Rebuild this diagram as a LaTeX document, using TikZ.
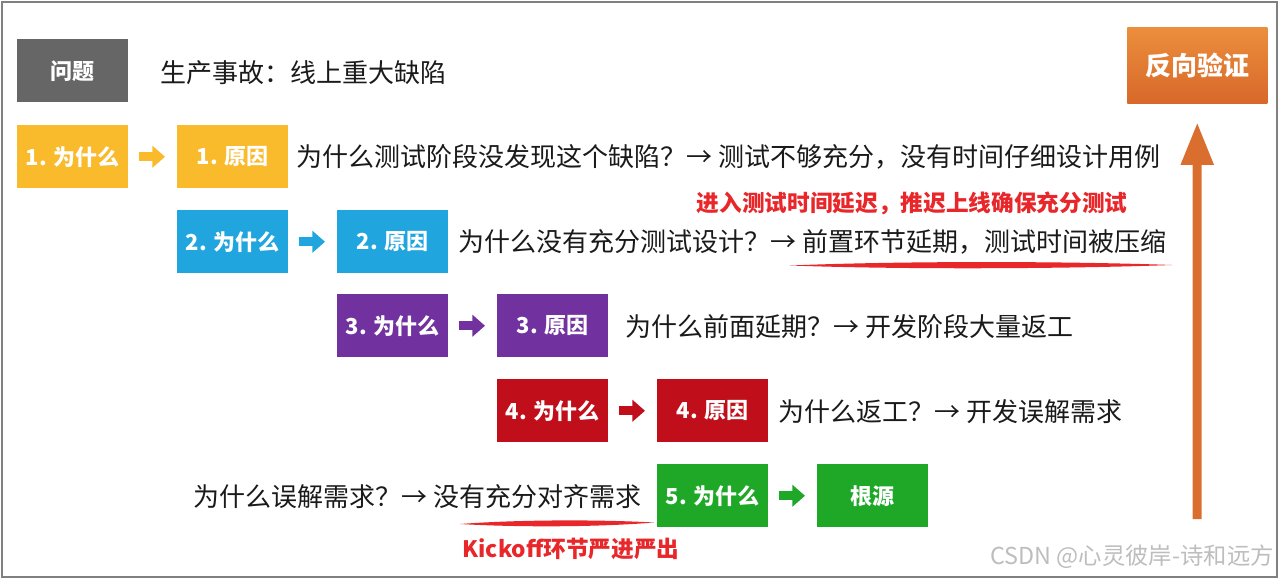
\documentclass[tikz,border=0pt]{standalone}
\usepackage{fontspec}
\setmainfont{Noto Sans CJK SC}
\usetikzlibrary{arrows.meta}
\definecolor{framec}{HTML}{808080}
\definecolor{grayq}{HTML}{666666}
\definecolor{yel}{HTML}{F9BA2C}
\definecolor{blu}{HTML}{21A5DE}
\definecolor{pur}{HTML}{7132A0}
\definecolor{dred}{HTML}{C00E1A}
\definecolor{grn}{HTML}{1FA828}
\definecolor{redt}{HTML}{E8272B}
\definecolor{orgA}{HTML}{EB8E3C}
\definecolor{orgB}{HTML}{D8682A}
\definecolor{orgArrow}{HTML}{DA6E2F}
\definecolor{txtc}{HTML}{1A1A1A}
\definecolor{wm}{HTML}{BDBDBD}
\begin{document}
\begin{tikzpicture}[x=0.75pt,y=-0.75pt,
  box/.style={draw=none, minimum width=83.25pt, minimum height=47.25pt, inner sep=0pt,
    text=white, font=\bfseries\fontsize{16.5}{16.5}\selectfont, anchor=north west},
  txt/.style={anchor=west, inner sep=0pt, text=txtc, font=\fontsize{19.5}{20}\selectfont},
  redlabel/.style={inner sep=0pt, text=redt, font=\bfseries\fontsize{17}{17}\selectfont},
  sarrow/.style={line width=6.5pt, -{Triangle[length=9.5pt,width=16pt]}, shorten <=7.5pt, shorten >=9pt},
  bigarrow/.style={draw=orgArrow, line width=6.75pt, -{Triangle[length=32pt,width=23pt]}, shorten >=14pt},
  uline/.style={fill=redt}
]
\useasboundingbox (0,0) rectangle (1280,581);
\draw[framec, line width=1.5pt] (2,2) rectangle (1277,577);

% problem
\node[box, fill=grayq] (q) at (17,39) {问题};
\node[txt] (qt) at (160,73) {生产事故：线上重大缺陷};

% row 1
\node[box, fill=yel] (w1) at (17,125) {1. 为什么};
\node[box, fill=yel] (r1) at (177,125) {1. 原因};
\draw[sarrow, draw=yel, fill=yel] (w1) -- (r1);
\node[txt] (t1) at (296,157) {为什么测试阶段没发现这个缺陷？→ 测试不够充分，没有时间仔细设计用例};

% row 2
\node[box, fill=blu] (w2) at (177,210) {2. 为什么};
\node[box, fill=blu] (r2) at (337,210) {2. 原因};
\draw[sarrow, draw=blu, fill=blu] (w2) -- (r2);
\node[txt] (t2) at (458,242) {为什么没有充分测试设计？→ 前置环节延期，测试时间被压缩};
\node[redlabel] (n2) at (912,203) {进入测试时间延迟，推迟上线确保充分测试};
\fill[uline] (790,265.5) .. controls (900,261) and (1060,261) .. (1172,265)
  .. controls (1060,269) and (900,269.5) .. cycle;

% row 3
\node[box, fill=pur] (w3) at (337,294) {3. 为什么};
\node[box, fill=pur] (r3) at (497,294) {3. 原因};
\draw[sarrow, draw=pur, fill=pur] (w3) -- (r3);
\node[txt] (t3) at (625,327) {为什么前面延期？→ 开发阶段大量返工};

% row 4
\node[box, fill=dred] (w4) at (497,379) {4. 为什么};
\node[box, fill=dred] (r4) at (657,379) {4. 原因};
\draw[sarrow, draw=dred, fill=dred] (w4) -- (r4);
\node[txt] (t4) at (778,412) {为什么返工？→ 开发误解需求};

% row 5
\node[txt] (t5) at (193,497) {为什么误解需求？→ 没有充分对齐需求};
\node[box, fill=grn] (w5) at (657,464) {5. 为什么};
\node[box, fill=grn] (r5) at (817,464) {根源};
\draw[sarrow, draw=grn, fill=grn] (w5) -- (r5);
\fill[uline] (460,524) .. controls (520,519.5) and (600,519.5) .. (654,522.5)
  .. controls (600,527) and (520,527.5) .. cycle;
\node[redlabel] (n5) at (571,549) {Kickoff环节严进严出};

% reverse verification
\node[box, top color=orgA, bottom color=orgB, minimum width=105pt, minimum height=57pt,
  font=\bfseries\fontsize{19.5}{20}\selectfont] (vv) at (1127,27) {反向验证};
\coordinate (vb) at (1197,519);
\draw[bigarrow] (vb) -- (vv.south);

% watermark
\node[anchor=east, inner sep=0pt, text=wm, font=\fontsize{17.5}{17.5}\selectfont] (wmk) at (1274,557) {CSDN @心灵彼岸-诗和远方};
\end{tikzpicture}
\end{document}
